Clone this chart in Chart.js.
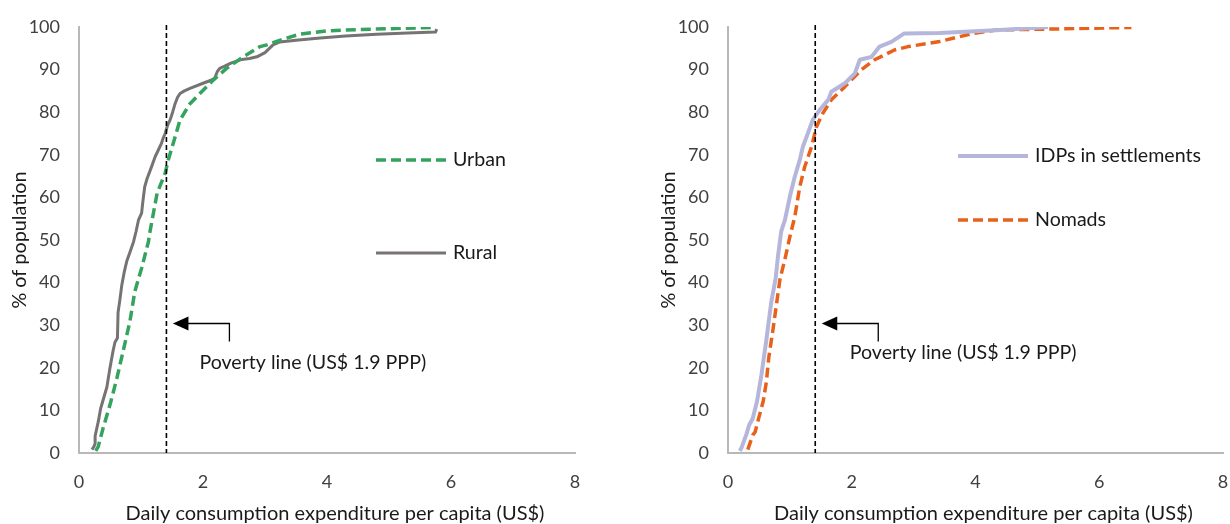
<!DOCTYPE html>
<html>
<head>
<meta charset="utf-8">
<title>Consumption distribution</title>
<script src="https://cdn.jsdelivr.net/npm/chart.js@4/dist/chart.umd.min.js"></script>
<style>
  html, body { margin: 0; padding: 0; background: #ffffff; }
  #wrap { position: relative; width: 1230px; height: 524px; }
  #wrap canvas { position: absolute; top: 0; }
</style>
</head>
<body>
<div id="wrap">
  <canvas id="leftChart" width="615" height="524" style="left:0"></canvas>
  <canvas id="rightChart" width="615" height="524" style="left:615px"></canvas>
</div>
<script>
// Cumulative share of population (%) by daily consumption per capita (US$)

const urbanSpend = [0.27, 0.31, 0.39, 0.50, 0.61, 0.71, 0.82, 0.90, 1.01, 1.12, 1.14, 1.26, 1.39, 1.44, 1.52, 1.63, 1.79, 1.95, 2.17, 2.38, 2.65, 2.92, 3.03, 3.30, 3.56, 4.00, 4.50, 5.00, 5.68];
const urbanShare = [0.5, 1.5, 5.9, 11.3, 17.5, 23.8, 30.8, 37.9, 43.4, 49.6, 51.6, 61.0, 65.7, 68.8, 72.7, 78.2, 82.0, 84.4, 87.6, 90.3, 93.0, 95.4, 95.8, 97.2, 98.3, 99.1, 99.4, 99.6, 99.9];

const ruralSpend = [0.21, 0.24, 0.26, 0.26, 0.31, 0.35, 0.39, 0.45, 0.50, 0.55, 0.58, 0.62, 0.63, 0.66, 0.69, 0.73, 0.77, 0.83, 0.88, 0.92, 0.96, 1.01, 1.03, 1.06, 1.10, 1.15, 1.23, 1.33, 1.36, 1.39, 1.43, 1.47, 1.51, 1.55, 1.59, 1.63, 1.70, 1.79, 2.00, 2.13, 2.19, 2.23, 2.27, 2.35, 2.45, 2.60, 2.75, 2.87, 3.00, 3.13, 3.24, 3.50, 3.89, 4.30, 4.80, 5.30, 5.75, 5.77];
const ruralShare = [0.8, 1.5, 2.2, 4.0, 7.3, 10.5, 12.5, 15.5, 20.0, 24.0, 26.0, 27.0, 33.0, 36.0, 39.4, 42.5, 45.0, 47.5, 49.6, 52.0, 54.7, 56.3, 59.0, 62.5, 64.5, 66.4, 69.6, 72.7, 74.0, 75.0, 77.0, 78.2, 80.0, 82.0, 83.5, 84.4, 85.0, 85.6, 86.8, 87.5, 88.0, 89.5, 90.3, 90.8, 91.5, 92.3, 92.6, 93.0, 94.0, 95.8, 96.5, 96.9, 97.4, 97.9, 98.3, 98.6, 98.8, 99.5];

const idpSpend = [0.19, 0.215, 0.30, 0.34, 0.40, 0.47, 0.54, 0.58, 0.62, 0.65, 0.70, 0.77, 0.81, 0.86, 0.92, 1.00, 1.08, 1.16, 1.21, 1.29, 1.37, 1.48, 1.62, 1.67, 1.89, 2.05, 2.13, 2.32, 2.45, 2.64, 2.85, 3.42, 4.40, 5.17];
const idpShare = [0.5, 1.1, 4.5, 6.5, 8.1, 12.2, 18.3, 22.5, 26.5, 30.0, 35.5, 41.0, 46.5, 52.0, 54.7, 60.2, 64.9, 68.8, 71.9, 75.0, 78.2, 80.5, 82.9, 84.8, 86.8, 89.1, 92.3, 93.0, 95.4, 96.5, 98.5, 98.6, 99.3, 100.0];

const nomadSpend = [0.32, 0.40, 0.44, 0.48, 0.57, 0.62, 0.66, 0.73, 0.77, 0.84, 0.92, 1.01, 1.08, 1.16, 1.24, 1.35, 1.43, 1.53, 1.67, 1.89, 2.15, 2.37, 2.69, 2.91, 3.26, 3.42, 3.96, 4.34, 5.15, 6.52];
const nomadShare = [0.8, 4.2, 5.0, 7.3, 12.2, 16.7, 22.5, 29.3, 33.5, 40.8, 45.5, 51.4, 55.5, 62.5, 67.2, 71.9, 76.6, 79.7, 82.9, 86.0, 89.9, 92.3, 94.6, 95.4, 96.2, 96.6, 98.5, 99.3, 99.5, 99.9];

const xTicks = [0, 2, 4, 6, 8];
const yTicks = [0, 10, 20, 30, 40, 50, 60, 70, 80, 90, 100];

const povertyLine = 1.41;          // poverty line position on the spending axis
const povertyLabel = 'Poverty line (US$ 1.9 PPP)';
const xTitle = 'Daily consumption expenditure per capita (US$)';
const yTitle = '% of population';

const FONT = 'Lato, "Open Sans", "DejaVu Sans", sans-serif';
const AXIS_GREY = '#b8b8b8';
const TEXT = '#1a1a1a';

function toPoints(xs, ys) {
  return xs.map((v, i) => ({ x: v, y: ys[i] }));
}

// Fixed-size axis boxes so the plot area sits exactly where the layout padding says
function fixBox(size, horizontal) {
  return s => {
    if (horizontal) s.height = size; else s.width = size;
    s.paddingTop = 0; s.paddingBottom = 0; s.paddingLeft = 0; s.paddingRight = 0;
  };
}

// Draws poverty line, its callout, the in-plot legend and the axis captions
const decorPlugin = {
  id: 'decor',
  afterDatasetsDraw(chart, args, o) {
    const { ctx, chartArea: a, scales: { x, y } } = chart;
    ctx.save();

    // vertical poverty line
    const px = x.getPixelForValue(povertyLine);
    ctx.strokeStyle = '#000';
    ctx.lineWidth = 1.6;
    ctx.setLineDash([5, 3]);
    ctx.beginPath();
    ctx.moveTo(px, y.getPixelForValue(100) - 2);
    ctx.lineTo(px, y.getPixelForValue(0));
    ctx.stroke();
    ctx.setLineDash([]);

    // callout arrow
    const ay = y.getPixelForValue(o.arrowAt);
    ctx.lineWidth = 1.3;
    ctx.beginPath();
    ctx.moveTo(px + 20, ay);
    ctx.lineTo(px + 63, ay);
    ctx.lineTo(px + 63, ay + 18);
    ctx.stroke();
    ctx.fillStyle = '#000';
    ctx.beginPath();
    ctx.moveTo(px + 6.5, ay);
    ctx.lineTo(px + 22, ay - 7);
    ctx.lineTo(px + 22, ay + 7);
    ctx.closePath();
    ctx.fill();

    ctx.font = '19.6px ' + FONT;
    ctx.fillStyle = TEXT;
    ctx.textAlign = 'left';
    ctx.textBaseline = 'alphabetic';
    ctx.fillText(povertyLabel, px + o.labelDx, ay + o.labelDy);

    // legend entries
    chart.data.datasets.forEach((ds, i) => {
      const ly = o.legendY[i];
      ctx.strokeStyle = ds.borderColor;
      ctx.lineWidth = ds.borderWidth;
      ctx.setLineDash(ds.borderDash || []);
      ctx.beginPath();
      ctx.moveTo(o.legendX, ly);
      ctx.lineTo(o.legendX + 70, ly);
      ctx.stroke();
      ctx.setLineDash([]);
      ctx.fillStyle = TEXT;
      ctx.textBaseline = 'middle';
      ctx.fillText(ds.label, o.legendX + 77, ly);
    });

    // axis captions
    ctx.fillStyle = TEXT;
    ctx.textAlign = 'center';
    ctx.textBaseline = 'middle';
    ctx.font = '20px ' + FONT;
    ctx.fillText(xTitle, (a.left + a.right) / 2 + 8, a.bottom + 61);
    ctx.font = '19.8px ' + FONT;
    ctx.translate(a.left - 59, (a.top + a.bottom) / 2);
    ctx.rotate(-Math.PI / 2);
    ctx.fillText(yTitle, 0, 0);
    ctx.restore();
  }
};

function buildChart(canvasId, datasets, decor, yAxisWidth, rightPad) {
  return new Chart(document.getElementById(canvasId), {
    type: 'line',
    data: { datasets },
    options: {
      responsive: false,
      animation: false,
      devicePixelRatio: 1,
      layout: { padding: { top: 27, right: rightPad, left: 0, bottom: 0 } },
      elements: { point: { radius: 0 }, line: { tension: 0, borderCapStyle: 'butt', borderJoinStyle: 'round' } },
      plugins: { legend: { display: false }, tooltip: { enabled: false }, decor },
      scales: {
        x: {
          type: 'linear', min: 0, max: 8,
          afterBuildTicks: s => { s.ticks = xTicks.map(v => ({ value: v })); },
          ticks: { padding: 18, color: '#404040', font: { family: FONT, size: 18 } },
          grid: { display: false, drawTicks: false },
          border: { color: AXIS_GREY, width: 2 },
          afterFit: fixBox(71, true)
        },
        y: {
          type: 'linear', min: 0, max: 100,
          afterBuildTicks: s => { s.ticks = yTicks.map(v => ({ value: v })); },
          ticks: { padding: 19, color: '#404040', font: { family: FONT, size: 18 } },
          grid: { display: false, drawTicks: false },
          border: { color: AXIS_GREY, width: 2 },
          afterFit: fixBox(yAxisWidth, false)
        }
      }
    },
    plugins: [decorPlugin]
  });
}

buildChart('leftChart', [
  { label: 'Urban', data: toPoints(urbanSpend, urbanShare), borderColor: '#33a35e', borderWidth: 3.5, borderDash: [10, 5] },
  { label: 'Rural', data: toPoints(ruralSpend, ruralShare), borderColor: '#777373', borderWidth: 3 }
], { arrowAt: 30.4, labelDx: 33, labelDy: 46, legendX: 376, legendY: [160, 253] }, 79, 40);

buildChart('rightChart', [
  { label: 'IDPs in settlements', data: toPoints(idpSpend, idpShare), borderColor: '#b5b6dc', borderWidth: 4 },
  { label: 'Nomads', data: toPoints(nomadSpend, nomadShare), borderColor: '#e8611a', borderWidth: 3.5, borderDash: [10, 5] }
], { arrowAt: 30.4, labelDx: 34.5, labelDy: 36, legendX: 343, legendY: [156, 220] }, 113, 7);
</script>
</body>
</html>
